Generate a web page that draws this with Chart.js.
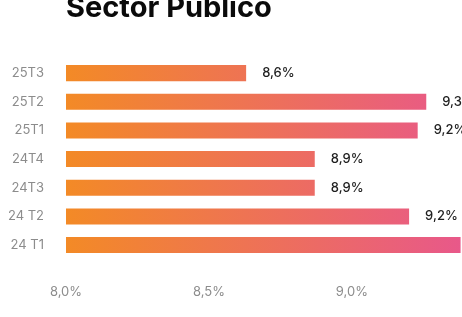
<!DOCTYPE html>
<html>
<head>
<meta charset="utf-8">
<script src="https://cdn.jsdelivr.net/npm/chart.js@4.4.1/dist/chart.umd.min.js"></script>
<style>
html,body{margin:0;padding:0;background:#fff;overflow:hidden;}
#wrap{width:462px;height:317px;position:relative;}
</style>
</head>
<body>
<div id="wrap"><canvas id="c"></canvas></div>
<script>
const titleText = "Sector Público";
const categories = ["25T3", "25T2", "25T1", "24T4", "24T3", "24 T2", "24 T1"];
const values = [8.63, 9.26, 9.23, 8.87, 8.87, 9.20, 9.38];
const xTicks = [8.0, 8.5, 9.0];

function fmt(v){ return v.toFixed(1).replace('.', ',') + '%'; }

const valueLabels = {
  id: 'valueLabels',
  afterDatasetsDraw(chart){
    const ctx = chart.ctx;
    const meta = chart.getDatasetMeta(0);
    ctx.save();
    ctx.font = '500 13px Inter, "Noto Sans", sans-serif';
    ctx.fillStyle = '#1f1f1f';
    ctx.textAlign = 'left';
    ctx.textBaseline = 'middle';
    meta.data.forEach((bar, i) => {
      ctx.fillText(fmt(values[i]), bar.x + 16, bar.y);
    });
    ctx.restore();
  }
};

function grad(ctx){
  const chart = ctx.chart;
  const a = chart.chartArea;
  if (!a) return '#F08A2C';
  const g = chart.ctx.createLinearGradient(a.left, 0, a.right, 0);
  g.addColorStop(0, '#F38A26');
  g.addColorStop(1, '#E8588A');
  return g;
}

new Chart(document.getElementById('c'), {
  type: 'bar',
  data: {
    labels: categories,
    datasets: [{
      data: values,
      backgroundColor: grad,
      borderWidth: 0,
      barPercentage: 0.56,
      categoryPercentage: 1.0
    }]
  },
  options: {
    indexAxis: 'y',
    responsive: true,
    maintainAspectRatio: false,
    animation: false,
    layout: { padding: { top: 0, right: 0, bottom: -8, left: 0 } },
    plugins: {
      legend: { display: false },
      tooltip: { enabled: false },
      title: {
        display: true,
        text: titleText,
        align: 'start',
        fullSize: false,
        color: '#0a0a0a',
        font: { family: 'Inter, "Noto Sans", sans-serif', size: 29, weight: '700', lineHeight: 1.2 },
        padding: { top: -9, bottom: 33 }
      }
    },
    scales: {
      x: {
        min: 8.0,
        max: 9.385,
        grid: { display: false, drawTicks: false },
        border: { display: false },
        afterBuildTicks: s => { s.ticks = xTicks.map(v => ({ value: v })); },
        ticks: {
          padding: 25,
          color: '#8c8c8c',
          font: { family: 'Inter, "Noto Sans", sans-serif', size: 13 },
          callback: v => fmt(v)
        }
      },
      y: {
        grid: { display: false, drawTicks: false },
        border: { display: false },
        afterFit: s => { s.width = 66; },
        ticks: {
          padding: 22,
          color: '#8c8c8c',
          font: { family: 'Inter, "Noto Sans", sans-serif', size: 13 }
        }
      }
    }
  },
  plugins: [valueLabels]
});
</script>
</body>
</html>
